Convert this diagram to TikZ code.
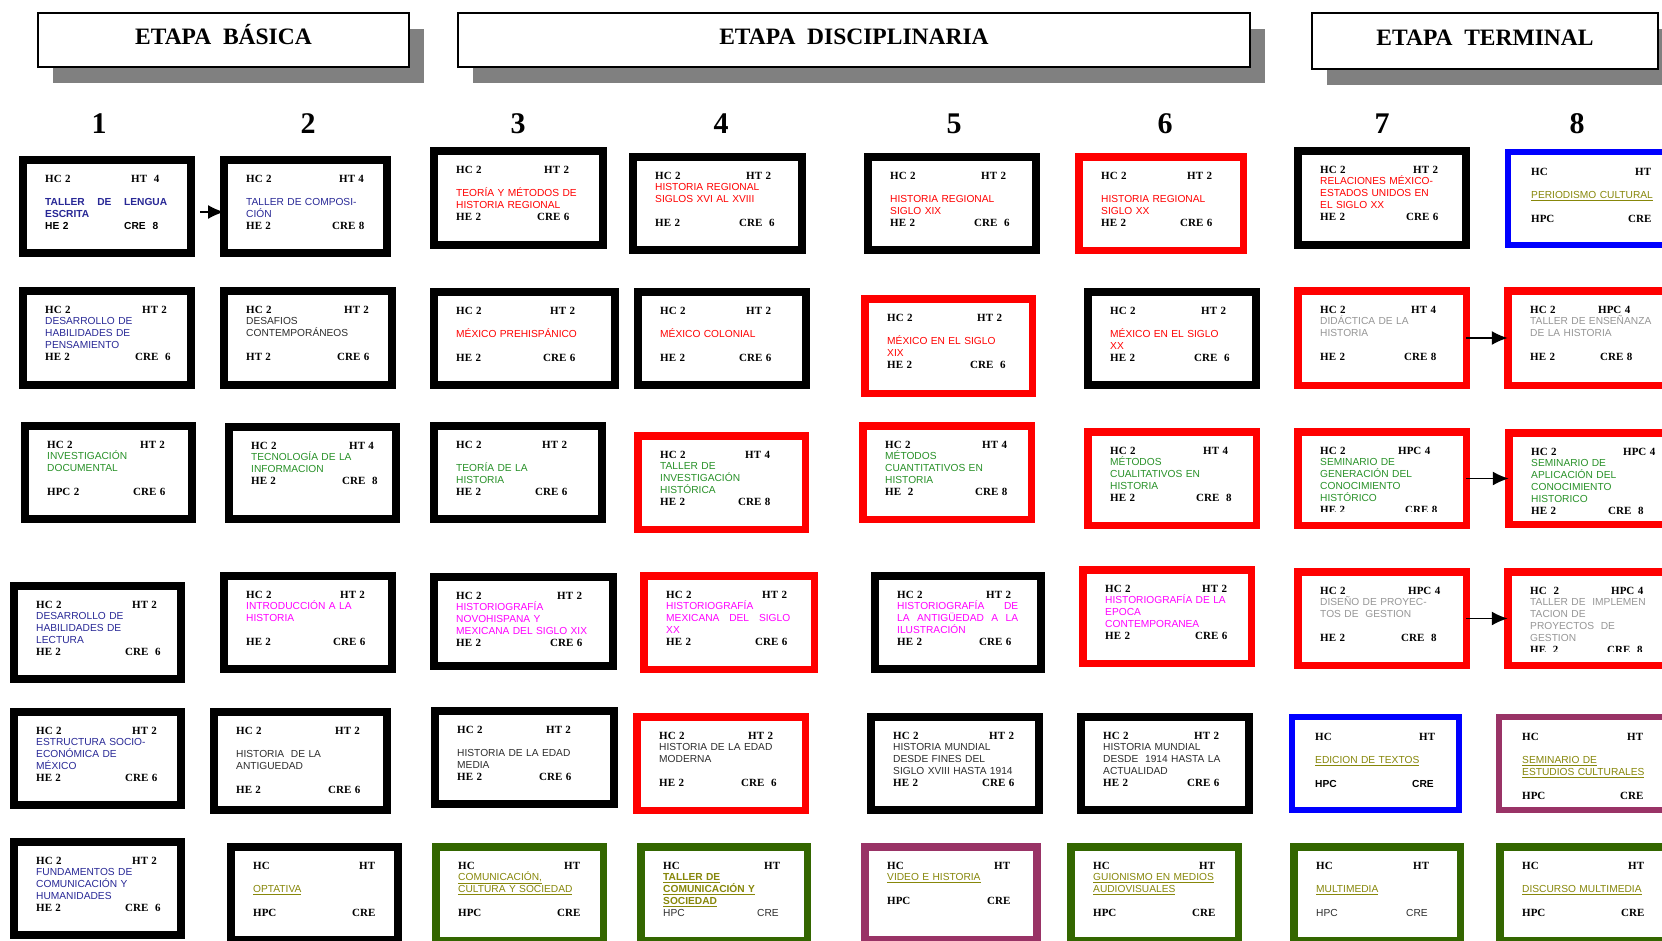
\documentclass[tikz,border=0pt]{standalone}
\usepackage{fontspec}
\setmainfont{Liberation Sans}
\newfontfamily\tms{Liberation Serif}
\usetikzlibrary{arrows.meta,shadows}

\definecolor{azulmarino}{RGB}{40,40,150}
\definecolor{verdetx}{RGB}{40,145,40}
\definecolor{rosa}{RGB}{255,0,255}
\definecolor{grisclaro}{RGB}{150,150,150}
\definecolor{grisoscuro}{RGB}{45,45,45}
\definecolor{olivo}{RGB}{135,135,10}
\definecolor{moradom}{RGB}{153,51,102}
\definecolor{verdem}{RGB}{51,102,0}
\definecolor{sombra}{RGB}{128,128,128}

% columna derecha de los datos (HT, CRE)
\newlength\colw
\newcommand\corte{8}
\newcommand\dat[2]{{\color{black}\fontsize{11}{11.8}\selectfont\tms\bfseries\makebox[\colw][l]{#1}#2}}
\newcommand\datb[3][\dimexpr\colw-7pt\relax]{{\color{black}\fontsize{11}{11.8}\selectfont\tms\bfseries\makebox[#1][l]{#2}#3}}
\newcommand\datsf[3]{{\color{black}#1\makebox[\dimexpr\colw-7pt\relax][l]{#2}#3}}

% caja de materia: nombre, x, y, ancho, alto, marco, columna, color, texto
\newcommand\materia[9]{%
  \setlength\colw{#7pt}%
  \node[caja,#6,minimum width=#4pt-\pgflinewidth,minimum height=#5pt-\pgflinewidth] (#1) at ({#2+#4/2},{#3+#5/2}) {};
  \begin{scope}
    \clip (#2,#3) rectangle ({#2+#4},{#3+#5-\corte});
    \node[dato,text=#8,text width=#4pt] (#1t) at ({#2+26},{#3+26}) {#9};
  \end{scope}
}

\begin{document}
\begin{tikzpicture}[x=1pt,y=-1pt,
  caja/.style={rectangle,inner sep=0pt,outer sep=0pt,fill=white},
  negro/.style={draw=black,line width=8pt},
  rojo/.style={draw=red,line width=7.5pt},
  azul/.style={draw=blue,line width=6pt},
  morado/.style={draw=moradom,line width=6pt},
  moradog/.style={draw=moradom,line width=8pt},
  verde/.style={draw=verdem,line width=7.5pt},
  dato/.style={anchor=base west,inner sep=0pt,align=left,font=\fontsize{10.2}{11.8}\selectfont},
  etapa/.style={rectangle,draw=black,line width=2pt,fill=white,inner sep=0pt,outer sep=0pt,
    drop shadow={shadow xshift=15pt,shadow yshift=-16pt,fill=sombra,opacity=1},
    font=\fontsize{23.5}{26}\selectfont\tms\bfseries,text height=16pt,text depth=8pt},
  num/.style={font=\fontsize{30}{32}\selectfont\tms\bfseries},
  flecha/.style={-{Latex[length=16pt,width=14pt]},line width=1.6pt}]
\useasboundingbox (0,0) rectangle (1662,940);

% etapas
\node[etapa,minimum width=371pt,minimum height=54pt] (basica) at (223.5,40) {ETAPA\ \ BÁSICA};
\node[etapa,minimum width=792pt,minimum height=54pt] (disciplinaria) at (854,40) {ETAPA\ \ DISCIPLINARIA};
\node[etapa,minimum width=346pt,minimum height=56pt] (terminal) at (1485,41) {ETAPA\ \ TERMINAL};

% semestres
\foreach \n/\x in {1/99,2/308,3/518,4/721,5/954,6/1165,7/1382,8/1577}
  \node[num] (n\n) at (\x,124) {\n};

% fila 1
\materia{s1r1}{19}{156}{176}{101}{negro}{86}{azulmarino}{\dat{HC 2}{HT~~4}\\ ~\\ \textbf{\makebox[122pt][l]{TALLER\hfill DE\hfill LENGUA}}\\ \textbf{ESCRITA}\\ \datsf{\bfseries}{HE 2}{CRE~~8}}
\materia{s2r1}{220}{156}{171}{101}{negro}{93}{azulmarino}{\dat{HC~2}{HT 4}\\ ~\\ TALLER DE COMPOSI-\\ CIÓN\\ \datb{HE~2}{CRE 8}}
\materia{s3r1}{430}{147}{177}{102}{negro}{88}{red}{\dat{HC~2}{HT~2}\\ ~\\ TEORÍA Y MÉTODOS DE\\ HISTORIA REGIONAL\\ \datb{HE~2}{CRE~6}}
\materia{s4r1}{629}{153}{177}{101}{negro}{91}{red}{\dat{HC~2}{HT~2}\\ HISTORIA REGIONAL\\ SIGLOS XVI AL XVIII\\ ~\\ \datb{HE~2}{CRE~~6}}
\materia{s5r1}{864}{153}{176}{101}{negro}{91}{red}{\dat{HC 2}{HT~2}\\ ~\\ HISTORIA REGIONAL\\ SIGLO XIX\\ \datb{HE 2}{CRE~~6}}
\materia{s6r1}{1075}{153}{172}{101}{rojo}{86}{red}{\dat{HC~2}{HT~2}\\ ~\\ HISTORIA REGIONAL\\ SIGLO XX\\ \datb{HE 2}{CRE~6}}
\materia{s7r1}{1294}{147}{176}{102}{negro}{93}{red}{\dat{HC~2}{HT~2}\\ RELACIONES MÉXICO-\\ ESTADOS UNIDOS EN\\ EL SIGLO XX\\ \datb{HE~2}{CRE~6}}
\materia{s8r1}{1505}{149}{176}{99}{azul}{104}{olivo}{\dat{HC}{HT}\\ ~\\ \underline{PERIODISMO CULTURAL}\\ ~\\ \datb{HPC}{CRE}}

% fila 2
\materia{s1r2}{19}{287}{176}{102}{negro}{97}{azulmarino}{\dat{HC~2}{HT 2}\\ DESARROLLO DE\\ HABILIDADES DE\\ PENSAMIENTO\\ \datb{HE~2}{CRE~~6}}
\materia{s2r2}{220}{287}{176}{102}{negro}{98}{grisoscuro}{\dat{HC 2}{HT 2}\\ DESAFIOS\\ CONTEMPORÁNEOS\\ ~\\ \datb{HT 2}{CRE~6}}
\materia{s3r2}{430}{288}{189}{101}{negro}{94}{red}{\dat{HC~2}{HT 2}\\ ~\\ MÉXICO PREHISPÁNICO\\ ~\\ \datb{HE~2}{CRE 6}}
\materia{s4r2}{634}{288}{176}{101}{negro}{86}{red}{\dat{HC~2}{HT~2}\\ ~\\ MÉXICO COLONIAL\\ ~\\ \datb{HE~2}{CRE 6}}
\materia{s5r2}{861}{295}{175}{102}{rojo}{90}{red}{\dat{HC~2}{HT~2}\\ ~\\ MÉXICO EN EL SIGLO\\ XIX\\ \datb{HE~2}{CRE~~6}}
\materia{s6r2}{1084}{288}{176}{101}{negro}{91}{red}{\dat{HC~2}{HT~2}\\ ~\\ MÉXICO EN EL SIGLO\\ XX\\ \datb{HE~2}{CRE~~6}}
\materia{s7r2}{1294}{287}{176}{102}{rojo}{91}{grisclaro}{\dat{HC~2}{HT~4}\\ DIDÁCTICA DE LA\\ HISTORIA\\ ~\\ \datb{HE~2}{CRE~8}}
\materia{s8r2}{1504}{287}{176}{102}{rojo}{68}{grisclaro}{\dat{HC~2}{HPC~4}\\ TALLER DE ENSEÑANZA\\ DE LA HISTORIA\\ ~\\ \datb[70pt]{HE 2}{CRE~8}}

% fila 3
\materia{s1r3}{21}{422}{175}{101}{negro}{93}{verdetx}{\dat{HC~2}{HT~2}\\ INVESTIGACIÓN\\ DOCUMENTAL\\ ~\\ \datb{HPC 2}{CRE~6}}
\materia{s2r3}{225}{423}{175}{100}{negro}{98}{verdetx}{\dat{HC~2}{HT 4}\\ TECNOLOGÍA DE LA\\ INFORMACION\\ \datb{HE 2}{CRE~~8}}
\materia{s3r3}{430}{422}{176}{101}{negro}{86}{verdetx}{\dat{HC~2}{HT~2}\\ ~\\ TEORÍA DE LA\\ HISTORIA\\ \datb{HE 2}{CRE~6}}
\materia{s4r3}{634}{432}{175}{101}{rojo}{85}{verdetx}{\dat{HC~2}{HT~4}\\ TALLER DE\\ INVESTIGACIÓN\\ HISTÓRICA\\ \datb{HE 2}{CRE~8}}
\materia{s5r3}{859}{422}{176}{101}{rojo}{97}{verdetx}{\dat{HC~2}{HT 4}\\ MÉTODOS\\ CUANTITATIVOS EN\\ HISTORIA\\ \datb{HE~~2}{CRE 8}}
\materia{s6r3}{1084}{428}{176}{101}{rojo}{93}{verdetx}{\dat{HC~2}{HT~4}\\ MÉTODOS\\ CUALITATIVOS EN\\ HISTORIA\\ \datb{HE~2}{CRE~~8}}
\renewcommand\corte{18}
\materia{s7r3}{1294}{428}{176}{101}{rojo}{78}{verdetx}{\dat{HC~2}{HPC~4}\\ SEMINARIO DE\\ GENERACIÓN DEL\\ CONOCIMIENTO\\ HISTÓRICO\\ \datb[85pt]{HE 2}{CRE~8}}
\renewcommand\corte{8}
\materia{s8r3}{1505}{429}{176}{99}{rojo}{92}{verdetx}{\dat{HC~2}{HPC 4}\\ SEMINARIO DE\\ APLICACIÓN DEL\\ CONOCIMIENTO\\ HISTORICO\\ \datb[77pt]{HE~2}{CRE~~8}}

% fila 4
\materia{s1r4}{10}{582}{175}{101}{negro}{96}{azulmarino}{\dat{HC~2}{HT 2}\\ DESARROLLO DE\\ HABILIDADES DE\\ LECTURA\\ \datb{HE~2}{CRE~~6}}
\materia{s2r4}{220}{572}{176}{101}{negro}{94}{rosa}{\dat{HC 2}{HT 2}\\ INTRODUCCIÓN A LA\\ HISTORIA\\ ~\\ \datb{HE 2}{CRE 6}}
\materia{s3r4}{430}{573}{187}{97}{negro}{101}{rosa}{\dat{HC~2}{HT 2}\\ HISTORIOGRAFÍA\\ NOVOHISPANA Y\\ MEXICANA DEL SIGLO XIX\\ \datb{HE 2}{CRE~6}}
\materia{s4r4}{640}{572}{178}{101}{rojo}{96}{rosa}{\dat{HC~2}{HT~2}\\ HISTORIOGRAFÍA\\ \makebox[124pt][l]{MEXICANA\hfill DEL\hfill SIGLO}\\ XX\\ \datb{HE~2}{CRE~6}}
\materia{s5r4}{871}{572}{174}{101}{negro}{89}{rosa}{\dat{HC~2}{HT~2}\\ \makebox[121pt][l]{HISTORIOGRAFÍA\hfill DE}\\ \makebox[121pt][l]{LA\hfill ANTIGÜEDAD\hfill A\hfill LA}\\ ILUSTRACIÓN\\ \datb{HE 2}{CRE~6}}
\materia{s6r4}{1079}{566}{176}{101}{rojo}{97}{rosa}{\dat{HC 2}{HT~2}\\ HISTORIOGRAFÍA DE LA\\ EPOCA\\ CONTEMPORANEA\\ \datb{HE~2}{CRE~6}}
\materia{s7r4}{1294}{568}{176}{101}{rojo}{88}{grisclaro}{\dat{HC~2}{HPC 4}\\ DISEÑO DE PROYEC-\\ TOS DE~ GESTION\\ ~\\ \datb{HE~2}{CRE~~8}}
\renewcommand\corte{18}
\materia{s8r4}{1504}{568}{176}{101}{rojo}{81}{grisclaro}{\dat{HC~~2}{HPC 4}\\ TALLER DE~ IMPLEMEN\\ TACION DE\\ PROYECTOS~ DE\\ GESTION\\ \datb[77pt]{HE~~2}{CRE~~8}}
\renewcommand\corte{8}

% fila 5
\materia{s1r5}{10}{708}{175}{101}{negro}{96}{azulmarino}{\dat{HC 2}{HT 2}\\ ESTRUCTURA SOCIO-\\ ECONÓMICA DE\\ MÉXICO\\ \datb{HE 2}{CRE 6}}
\materia{s2r5}{210}{708}{181}{106}{negro}{99}{grisoscuro}{\dat{HC 2}{HT~2}\\ ~\\ HISTORIA~ DE LA\\ ANTIGUEDAD\\ ~\\ \datb{HE 2}{CRE~6}}
\materia{s3r5}{431}{707}{187}{101}{negro}{89}{grisoscuro}{\dat{HC~2}{HT~2}\\ ~\\ HISTORIA DE LA EDAD\\ MEDIA\\ \datb{HE~2}{CRE 6}}
\materia{s4r5}{633}{713}{176}{101}{rojo}{89}{grisoscuro}{\dat{HC~2}{HT~2}\\ HISTORIA DE LA EDAD\\ MODERNA\\ ~\\ \datb{HE 2}{CRE~~6}}
\materia{s5r5}{867}{713}{176}{101}{negro}{96}{grisoscuro}{\dat{HC 2}{HT~2}\\ HISTORIA MUNDIAL\\ DESDE FINES DEL\\ SIGLO XVIII HASTA 1914\\ \datb{HE~2}{CRE~6}}
\materia{s6r5}{1077}{713}{176}{101}{negro}{91}{grisoscuro}{\dat{HC~2}{HT~2}\\ HISTORIA MUNDIAL\\ DESDE~ 1914 HASTA LA\\ ACTUALIDAD\\ \datb{HE~2}{CRE~6}}
\materia{s7r5}{1289}{714}{173}{99}{azul}{104}{olivo}{\dat{HC}{HT}\\ ~\\ \underline{EDICION DE TEXTOS}\\ ~\\ \datsf{\bfseries}{HPC}{CRE}}
\materia{s8r5}{1496}{714}{176}{99}{morado}{105}{olivo}{\dat{HC}{HT}\\ ~\\ \underline{SEMINARIO DE}\\ \underline{ESTUDIOS CULTURALES}\\ ~\\ \datb{HPC}{CRE}}

% fila 6
\materia{s1r6}{10}{838}{175}{101}{negro}{96}{azulmarino}{\dat{HC~2}{HT 2}\\ FUNDAMENTOS DE\\ COMUNICACIÓN Y\\ HUMANIDADES\\ \datb{HE~2}{CRE~~6}}
\materia{s2r6}{227}{843}{175}{101}{negro}{106}{olivo}{\dat{HC}{HT}\\ ~\\ \underline{OPTATIVA}\\ ~\\ \datb{HPC}{CRE}}
\materia{s3r6}{432}{843}{175}{101}{verde}{106}{olivo}{\dat{HC}{HT}\\ \underline{COMUNICACIÓN,}\\ \underline{CULTURA Y SOCIEDAD}\\ ~\\ \datb{HPC}{CRE}}
\materia{s4r6}{637}{843}{174}{101}{verde}{101}{olivo}{\dat{HC}{HT}\\ \textbf{\underline{TALLER DE}}\\ \textbf{\underline{COMUNICACIÓN Y}}\\ \textbf{\underline{SOCIEDAD}}\\ \datsf{\color{grisoscuro}}{HPC}{CRE}}
\materia{s5r6}{861}{843}{180}{101}{moradog}{107}{olivo}{\dat{HC}{HT}\\ \underline{VIDEO E HISTORIA}\\ ~\\ \datb{HPC}{CRE}}
\materia{s6r6}{1067}{843}{175}{101}{verde}{106}{olivo}{\dat{HC}{HT}\\ \underline{GUIONISMO EN MEDIOS}\\ \underline{AUDIOVISUALES}\\ ~\\ \datb{HPC}{CRE}}
\materia{s7r6}{1290}{843}{174}{101}{verde}{97}{olivo}{\dat{HC}{HT}\\ ~\\ \underline{MULTIMEDIA}\\ ~\\ \datsf{\color{grisoscuro}}{HPC}{CRE}}
\materia{s8r6}{1496}{843}{176}{101}{verde}{106}{olivo}{\dat{HC}{HT}\\ ~\\ \underline{DISCURSO MULTIMEDIA}\\ ~\\ \datb{HPC}{CRE}}

% seriaciones
\draw[flecha,shorten <=9pt] ([yshift=-5.5pt]s1r1.east) -- ([yshift=-5.5pt]s2r1.west);
\draw[flecha] (s7r2.east) -- (s8r2.west);
\draw[flecha] (s7r3.east) -- (s8r3.west);
\draw[flecha] (s7r4.east) -- (s8r4.west);
\end{tikzpicture}
\end{document}
